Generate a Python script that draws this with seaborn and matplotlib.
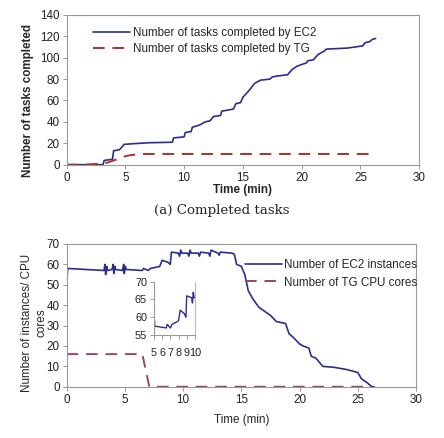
# EC2 vs TG: completed tasks and resources over time

import seaborn as sns
import matplotlib.pyplot as plt

sns.set_style("white")
plt.rcParams['font.family'] = ['Liberation Sans', 'DejaVu Sans']

# (a) completed tasks
ec2_t = [0, 3.1, 3.2, 3.9, 4.0, 4.5, 4.9, 5.5, 7.0, 9.0, 9.1, 10.0, 10.1, 10.6, 10.7,
         11.3, 11.8, 12.2, 12.5, 13.1, 13.2, 14.2, 14.4, 14.8, 15.0, 15.5, 16.0, 16.5,
         17.3, 17.5, 18.0, 18.8, 19.2, 19.6, 20.1, 20.4, 20.5, 21.0, 21.4, 21.9, 22.1,
         23.9, 25.2, 25.4, 25.8, 26.0, 26.3]
ec2_done = [0, 0, 4, 5, 13, 14, 19, 19.5, 20.5, 21, 25, 26, 30, 31, 35,
            37, 40, 41, 45, 46, 50, 52, 57, 58, 63, 69, 76, 79,
            80, 82, 83, 84, 89, 92, 94, 95, 97, 98, 103, 106, 108,
            109, 111, 114, 115, 117, 118]
tg_t = [0, 1.5, 3.0, 3.5, 4.0, 4.3, 4.8, 5.0, 5.5, 6.3, 26.0]
tg_done = [0, 0, 1, 2, 4, 5, 7, 8, 9, 10, 10]

# (b) instances / cores
inst_t = [0, 0.1, 3.2, 3.3, 3.35, 3.45, 3.5, 3.9, 4.0, 4.05, 4.15, 4.2, 4.8, 4.9,
          4.95, 5.05, 5.1, 6.5, 6.6, 7.0, 7.2, 8.0, 8.2, 8.7, 8.9, 9.0, 9.6, 9.7,
          9.8, 9.9, 10.4, 10.5, 10.6, 10.7, 11.3, 11.4, 11.5, 12.2, 12.3, 12.4,
          13.0, 13.1, 13.2, 14.2, 14.4, 14.6, 15.0, 15.3, 15.6, 16.0, 16.5, 17.0,
          17.5, 18.0, 18.8, 19.1, 19.5, 20.0, 20.3, 20.8, 21.0, 21.4, 22.0, 23.0,
          24.0, 25.0, 25.3, 25.8, 26.2, 26.4]
inst_n = [50, 58, 57, 60, 55, 59, 57, 57.5, 60, 55.5, 59, 57.5, 57, 60,
          55.5, 59, 57.5, 57, 58, 57, 58, 59, 62, 61, 60, 66, 65.5, 64,
          67, 65.5, 65.5, 64, 67, 65.5, 65.5, 64, 66, 65.5, 64, 67,
          65.5, 64.5, 66, 65.5, 65, 60, 59, 55, 47, 43, 39, 37,
          35, 32, 31, 26, 24, 21, 20, 19, 15, 14, 10, 9.5,
          8.5, 7, 4, 2, 0, 0]
tg_core_t = [0, 6.5, 7.1, 26.0]
tg_cores = [16, 16, 0, 0]

ec2_col = '#2a2f8f'
tg_col = '#a8322d'
tg_col2 = '#9c4466'
fs = 8.4

fig = plt.figure(figsize=(4.44, 4.38), dpi=100)
ax1 = fig.add_axes([0.150, 0.624, 0.794, 0.342])
ax2 = fig.add_axes([0.150, 0.117, 0.787, 0.326])
axin = fig.add_axes([0.347, 0.235, 0.092, 0.122])


def frame(ax, size=fs):
    for s in ax.spines.values():
        s.set_color('#999999')
        s.set_linewidth(0.8)
    ax.tick_params(axis='both', labelsize=size, colors='#222222', length=3,
                   width=0.6, direction='out', bottom=True, left=True, pad=2)
    ax.tick_params(axis='both', color='#888888')


# top panel
sns.lineplot(x=ec2_t, y=ec2_done, ax=ax1, color=ec2_col, lw=1.2,
             estimator=None, label='Number of tasks completed by EC2')
sns.lineplot(x=tg_t, y=tg_done, ax=ax1, color=tg_col, lw=1.4,
             estimator=None, label='Number of tasks completed by TG')
ax1.lines[1].set_dashes([6, 4])
ax1.set_xlim(0, 30)
ax1.set_ylim(0, 140)
ax1.set_xticks(range(0, 31, 5))
ax1.set_yticks(range(0, 141, 20))
ax1.set_xlabel('Time (min)', fontsize=fs, fontweight='bold', labelpad=0)
ax1.set_ylabel('Number of tasks completed', fontsize=fs, fontweight='bold')
ax1.yaxis.set_label_coords(-0.093, 0.43)
frame(ax1)
leg1 = ax1.legend(loc='upper left', bbox_to_anchor=(0.045, 0.99), frameon=False,
                  fontsize=fs, handlelength=3.2, handletextpad=0.2, labelspacing=0.35)
leg1.get_lines()[1].set_dashes([6, 4])

fig.text(0.5, 0.519, '(a) Completed tasks', ha='center', va='center',
         fontsize=9.6, family=['DejaVu Serif'])

# bottom panel
sns.lineplot(x=inst_t, y=inst_n, ax=ax2, color=ec2_col, lw=1.2,
             estimator=None, label='Number of EC2 instances')
sns.lineplot(x=tg_core_t, y=tg_cores, ax=ax2, color=tg_col2, lw=1.4,
             estimator=None, label='Number of TG CPU cores')
ax2.lines[1].set_dashes([6, 4])
ax2.set_xlim(0, 30)
ax2.set_ylim(0, 70)
ax2.set_xticks(range(0, 31, 5))
ax2.set_yticks(range(0, 71, 10))
ax2.set_xlabel('Time (min)', fontsize=fs, labelpad=6)
ax2.set_ylabel('Number of instances/ CPU\ncores', fontsize=fs,
               multialignment='center')
ax2.yaxis.set_label_coords(-0.056, 0.45)
frame(ax2)
leg2 = ax2.legend(loc='upper left', bbox_to_anchor=(0.48, 0.97), frameon=False,
                  fontsize=fs, handlelength=3.2, handletextpad=0.2, labelspacing=0.5)
leg2.get_lines()[1].set_dashes([6, 4])

# inset
sns.lineplot(x=inst_t, y=inst_n, ax=axin, color=ec2_col, lw=1.0, estimator=None)
axin.set_xlim(5, 10)
axin.set_ylim(55, 70)
axin.set_xticks(range(5, 11))
axin.set_yticks(range(55, 71, 5))
axin.set_xlabel('')
axin.set_ylabel('')
axin.set_facecolor('white')
frame(axin, size=7.8)
axin.spines['top'].set_visible(False)
axin.spines['right'].set_color('#bbbbbb')
axin.tick_params(axis='x', pad=6)

fig.savefig('out.png', dpi=100)
